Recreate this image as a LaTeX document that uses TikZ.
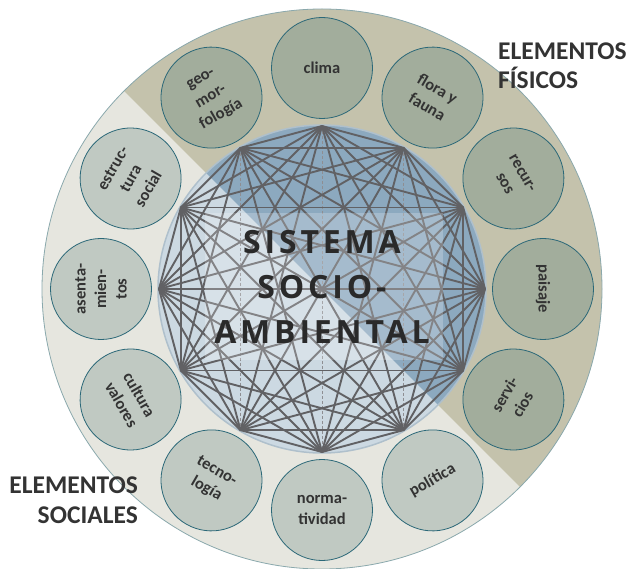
\documentclass[tikz,border=0pt]{standalone}
\usepackage{fontspec}
\setmainfont{Carlito}
\newfontfamily\titlefont[LetterSpace=12]{Open Sans}
\usetikzlibrary{calc}
\definecolor{ringkhaki}{HTML}{C4C2AC}
\definecolor{ringlight}{HTML}{E6E6DF}
\definecolor{ringedge}{HTML}{8AA8AC}
\definecolor{physfill}{HTML}{A2AD9C}
\definecolor{socfill}{HTML}{C0C9C2}
\definecolor{smalledge}{HTML}{2B6878}
\definecolor{innerlight}{HTML}{CCD9E2}
\definecolor{innerdark}{HTML}{8CA9BF}
\definecolor{innerborder}{HTML}{AFC0CC}
\definecolor{netline}{HTML}{616164}
\definecolor{netdash}{HTML}{8E8E92}
\definecolor{txt}{HTML}{333333}
\definecolor{titletxt}{HTML}{2A2A2A}
\tikzset{
  smallc/.style={circle, draw=smalledge, line width=0.8pt, minimum size=101pt, inner sep=0pt,
    text=txt, align=center, font=\fontsize{16.5}{20.5}\selectfont\bfseries},
  phys/.style={smallc, fill=physfill},
  soc/.style={smallc, fill=socfill},
  chord/.style={draw=netline, line width=1.9pt},
  dchord/.style={draw=netdash, line width=0.7pt, dash pattern=on 3pt off 2pt},
  grouplabel/.style={text=txt, inner sep=0pt, font=\fontsize{25.5}{29}\selectfont\bfseries},
}
\begin{document}
\begin{tikzpicture}[x=1pt,y=1pt]
\useasboundingbox (0,0) rectangle (629,568);
\coordinate (C) at (322,279);
% outer ring
\fill[ringlight] (C) circle (280);
\begin{scope}
  \clip (C) circle (280);
  \fill[ringkhaki] ($(C)+(135:400)$) -- ($(C)+(-45:400)$) -- ($(C)+(45:600)$) -- cycle;
\end{scope}
\draw[ringedge, line width=0.8pt] (C) circle (280);
% inner circle
\fill[innerlight] (C) circle (164);
\begin{scope}
  \clip (C) circle (164);
  \fill[innerdark] ($(C)+(135:200)$) -- ($(C)+(-45:200)$) -- ($(C)+(45:300)$) -- cycle;
\end{scope}
\draw[innerborder, line width=1.5pt] (C) circle (164);
% network vertices
\foreach \i in {0,...,11} \coordinate (v\i) at ($(C)+(\i*30:163)$);
% dashed chords (verticals)
\draw[dchord] (v3) -- (v9);
\draw[dchord] (v4) -- (v8);
\draw[dchord] (v2) -- (v10);
% solid chords
\foreach \i in {0,...,10}{
  \pgfmathtruncatemacro{\s}{\i+1}
  \foreach \j in {\s,...,11}{
    \pgfmathtruncatemacro{\isv}{(\i==3 && \j==9) || (\i==4 && \j==8) || (\i==2 && \j==10) ? 1 : 0}
    \ifnum\isv=0 \draw[chord] (v\i) -- (v\j); \fi
  }
}
% light rectangle behind title
\fill[white, opacity=0.22] (205,208) rectangle (443,355);
% title
\node[text=titletxt, inner sep=0pt, align=center, font=\titlefont\fontsize{32}{45}\selectfont\bfseries] (title) at (322,281) {SISTEMA\\SOCIO-\\AMBIENTAL};
% small circles
\node[phys] (clima) at ($(C)+(90:221)$) {clima};
\node[phys, rotate=-30] (flora) at ($(C)+(60:221)$) {flora y\\fauna};
\node[phys, rotate=-60] (recursos) at ($(C)+(30:221)$) {recur-\\sos};
\node[phys, rotate=-90] (paisaje) at ($(C)+(0:221)$) {paisaje};
\node[phys, rotate=60] (servicios) at ($(C)+(-30:221)$) {servi-\\cios};
\node[soc, rotate=30] (politica) at ($(C)+(-60:221)$) {política};
\node[soc] (normatividad) at ($(C)+(-90:221)$) {norma-\\tividad};
\node[soc, rotate=-30] (tecnologia) at ($(C)+(-120:221)$) {tecno-\\logía};
\node[soc, rotate=-60] (cultura) at ($(C)+(-150:221)$) {cultura\\valores};
\node[soc, rotate=90] (asentamientos) at ($(C)+(180:221)$) {asenta-\\mien-\\tos};
\node[soc, rotate=60] (estructura) at ($(C)+(150:221)$) {estruc-\\tura\\social};
\node[phys, rotate=30] (geo) at ($(C)+(120:221)$) {geo-\\mor-\\fología};
% group labels
\node[grouplabel, anchor=base west] (fis1) at (498,508) {ELEMENTOS};
\node[grouplabel, anchor=base west] (fis2) at (498,479) {FÍSICOS};
\node[grouplabel, anchor=base east] (soc1) at (138,75) {ELEMENTOS};
\node[grouplabel, anchor=base east] (soc2) at (138,45) {SOCIALES};
\end{tikzpicture}
\end{document}
